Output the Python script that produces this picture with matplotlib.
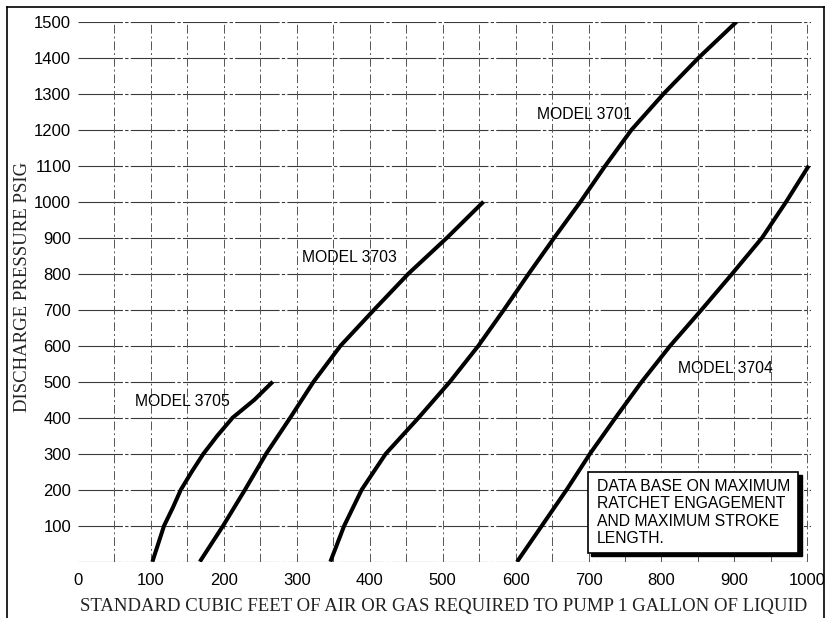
import numpy as np
import matplotlib.pyplot as plt
from matplotlib.lines import Line2D
from matplotlib.patches import Rectangle

# values
p_3705 = [0, 50, 100, 150, 200, 250, 300, 350, 400, 450, 500]
q_3705 = [102, 110, 118, 130, 141, 156, 172, 191, 212, 242, 267]

p_3703 = [0, 100, 200, 300, 400, 500, 600, 700, 800, 900, 1000]
q_3703 = [167, 199, 229, 258, 291, 323, 360, 406, 453, 506, 556]

p_3701 = [0, 100, 200, 300, 400, 500, 600, 700, 800, 900, 1000, 1100, 1200, 1300, 1400, 1500]
q_3701 = [346, 365, 389, 422, 467, 510, 549, 584, 618, 653, 689, 723, 759, 803, 851, 903]

p_3704 = [0, 100, 200, 300, 400, 500, 600, 700, 800, 900, 1000, 1100]
q_3704 = [602, 636, 670, 702, 737, 773, 812, 855, 897, 938, 971, 1002]

x_ticks = list(range(0, 1001, 100))
y_ticks = list(range(100, 1501, 100))
note = ["DATA BASE ON MAXIMUM", "RATCHET ENGAGEMENT",
        "AND MAXIMUM STROKE", "LENGTH."]

fig = plt.figure(figsize=(8.26, 6.18), dpi=100)
ax = fig.add_axes([78 / 826, 56.3 / 618, 733 / 826, 540 / 618])
ax.set_xlim(0, 1005)
ax.set_ylim(0, 1500)

# grid: horizontal lines every 100, broken vertical lines every 50
for y in range(0, 1501, 100):
    ax.axhline(y, color='#3a3a3a', lw=0.8, dashes=(40, 2, 3, 2), zorder=1)
for x in range(50, 1001, 50):
    ax.axvline(x, color='#555555', lw=0.7, dashes=(9, 3, 2, 3), zorder=1)

for q, p in [(q_3705, p_3705), (q_3703, p_3703), (q_3701, p_3701), (q_3704, p_3704)]:
    ax.plot(q, p, color='black', lw=2.9, solid_capstyle='butt', solid_joinstyle='round', zorder=3)

lab = dict(fontsize=11.3, family='Liberation Sans', va='center', ha='left', zorder=4)
ax.text(78, 444, "MODEL 3705", **lab)
ax.text(307, 845, "MODEL 3703", **lab)
ax.text(630, 1241, "MODEL 3701", **lab)
ax.text(822, 537, "MODEL 3704", **lab)

# note box with drop shadow
ax.add_patch(Rectangle((704, 15), 288, 227, facecolor='black', edgecolor='black', zorder=4))
ax.add_patch(Rectangle((699, 23), 288, 227, facecolor='white', edgecolor='black', lw=1.2, zorder=5))
ax.text(711, 230, "\n".join(note), fontsize=11.3, family='Liberation Sans',
        va='top', ha='left', linespacing=1.2, zorder=6)

ax.set_xticks(x_ticks)
ax.set_yticks(y_ticks)
ax.tick_params(length=0, labelsize=12)
ax.tick_params(axis='x', pad=8)
ax.tick_params(axis='y', pad=5)
for t in ax.get_xticklabels() + ax.get_yticklabels():
    t.set_family('Liberation Sans')
for s in ax.spines.values():
    s.set_visible(False)

fig.text(444 / 826, 1 - 606 / 618, "STANDARD CUBIC FEET OF AIR OR GAS REQUIRED TO PUMP 1 GALLON OF LIQUID",
         family='Liberation Serif', fontsize=13.5, ha='center', va='center', color='#222222')
fig.text(23 / 826, 1 - 287 / 618, "DISCHARGE PRESSURE PSIG", rotation=90,
         family='Liberation Serif', fontsize=13.5, ha='center', va='center', color='#222222')

# outer frame of the scan (left, top, right)
fig.add_artist(Line2D([7 / 826, 7 / 826], [0, 1 - 7 / 618], color='black', lw=1.2))
fig.add_artist(Line2D([7 / 826, 824 / 826], [1 - 7 / 618, 1 - 7 / 618], color='black', lw=1.2))
fig.add_artist(Line2D([824 / 826, 824 / 826], [0, 1 - 7 / 618], color='black', lw=1.2))

fig.savefig('out.png', dpi=100)
